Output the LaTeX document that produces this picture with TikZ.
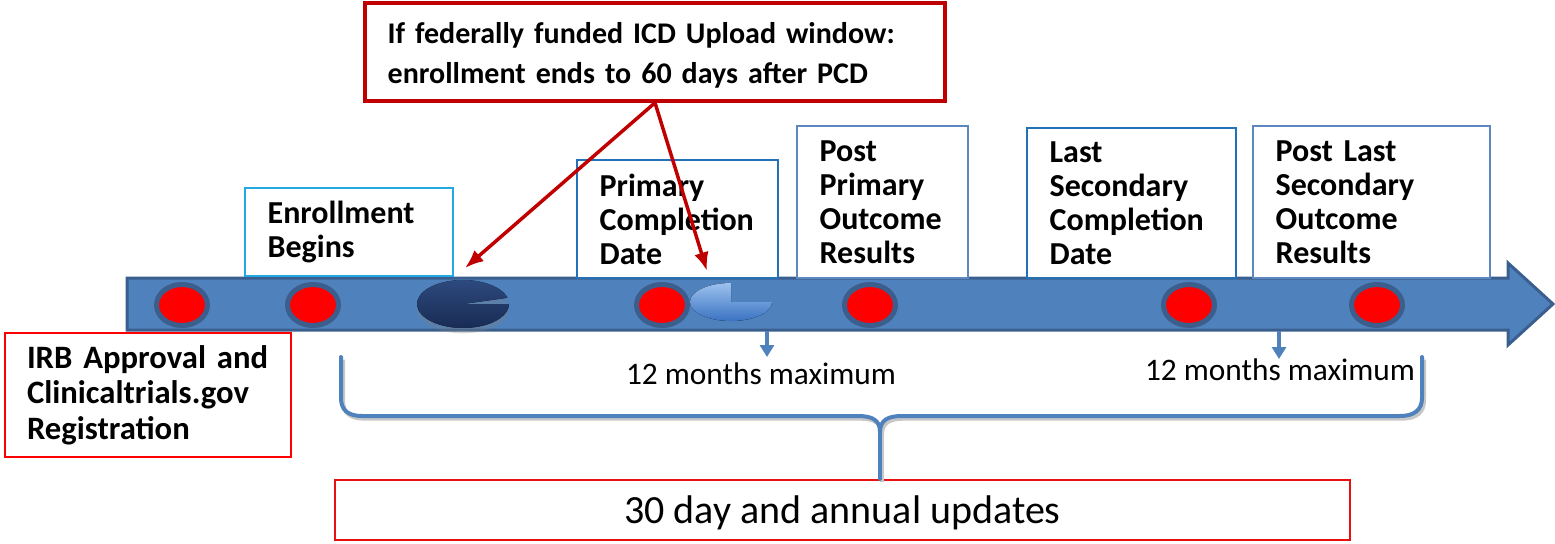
\documentclass[tikz,border=0pt]{standalone}
\usepackage{fontspec}
\setmainfont{Carlito}
\usetikzlibrary{shapes.geometric,arrows.meta,shadows}

\definecolor{barblue}{HTML}{4F81BD}
\definecolor{bardark}{HTML}{3A5F8E}
\definecolor{dotring}{HTML}{3C5E8C}
\definecolor{icdred}{HTML}{C00000}
\definecolor{irbred}{HTML}{FF0000}
\definecolor{updred}{HTML}{E81010}
\definecolor{enrollblue}{HTML}{22A9E1}
\definecolor{pcdblue}{HTML}{2372B8}
\definecolor{postblue}{HTML}{5D88BF}
\definecolor{navytop}{HTML}{2F4B80}
\definecolor{navybot}{HTML}{172A52}
\definecolor{pietop}{HTML}{9CC2EE}
\definecolor{piebot}{HTML}{3A72C2}

\tikzset{
	tbox/.style={draw, fill=white, line width=2pt, inner sep=0pt, align=left, font=\bfseries\fontsize{24}{25.5}\selectfont},
	reddot/.style={ellipse, draw=dotring, fill=red, line width=3.75pt, inner sep=0pt, minimum width=38.25pt, minimum height=30.75pt},
	callout/.style={draw=icdred, line width=2.6pt, -{Latex[length=14pt,width=11pt]}},
	dropline/.style={draw=barblue, line width=2.4pt, -{Triangle[length=9pt,width=10.5pt]}},
	monthtxt/.style={inner sep=0pt, font=\fontsize{23.5}{28}\selectfont},
	bracepath/.style={draw=barblue, line width=3pt, line cap=round, preaction={draw=black!22, line width=3pt, transform canvas={shift={(1.5pt,-2pt)}}}}
}

\begin{document}
\begin{tikzpicture}[x=0.75pt,y=0.75pt,yscale=-1,xscale=1]
	\useasboundingbox (0,0) rectangle (1555,543);
	\draw [draw=bardark, fill=barblue, line width=2.25pt] (127,278) -- (1508,278) -- (1508,263) -- (1553,304) -- (1508,345) -- (1508,330) -- (127,330) -- cycle ;
	\node [reddot] (dotA) at (182,305) {};
	\node [reddot] (dotB) at (313,305) {};
	\node [reddot] (dotC) at (662,305) {};
	\node [reddot] (dotD) at (870,305) {};
	\node [reddot] (dotE) at (1189,305) {};
	\node [reddot] (dotF) at (1377,305) {};
	\fill [top color=navytop, bottom color=navybot, drop shadow={opacity=0.3, shadow xshift=0pt, shadow yshift=-4pt}] (463,304) -- +(-15:46 and 24) arc [start angle=-15, end angle=-360, x radius=46, y radius=24] -- cycle ;
	\fill [top color=pietop, bottom color=piebot] (731,302) -- +(-90:41 and 19) arc [start angle=-90, end angle=-360, x radius=41, y radius=19] -- cycle ;
	\node [tbox, draw=enrollblue, minimum width=156pt, minimum height=66pt, text width=122pt] (enroll) at (349,232) {Enrollment\\Begins};
	\node [tbox, draw=pcdblue, minimum width=150.75pt, minimum height=88.5pt, text width=116.75pt] (pcd) at (677.5,219) {Primary\\Completion\\Date};
	\node [tbox, draw=postblue, minimum width=128.25pt, minimum height=114pt, text width=94.25pt] (ppor) at (882.5,202) {Post\\Primary\\Outcome\\Results};
	\node [tbox, draw=pcdblue, minimum width=156.75pt, minimum height=112.5pt, text width=122.75pt] (lscd) at (1131.5,203) {Last\\Secondary\\Completion\\Date};
	\node [tbox, draw=postblue, minimum width=177.75pt, minimum height=114pt, text width=143.75pt] (plsor) at (1371.5,202) {Post Last\\Secondary\\Outcome\\Results};
	\node [tbox, draw=irbred, line width=1.6pt, minimum width=214.5pt, minimum height=93pt, text width=181.5pt, font=\bfseries\fontsize{24.5}{26.6}\selectfont] (irb) at (148,395) {IRB Approval and\\Clinicaltrials.gov\\Registration};
	\node [tbox, draw=icdred, line width=2.6pt, minimum width=435pt, minimum height=73.5pt, text width=401pt, text depth=29pt, font=\bfseries\fontsize{22.5}{30}\selectfont] (icd) at (655,52) {If federally funded ICD Upload window:\\enrollment ends to 60 days after PCD};
	\node [draw=updred, line width=1.6pt, fill=white, inner sep=0pt, minimum width=761.25pt, minimum height=45pt, text depth=0pt, font=\fontsize{30}{36}\selectfont] (upd) at (842.5,510) {30 day and annual updates};
	\coordinate (tipA) at (465,268);
	\coordinate (tipB) at (707,271);
	\draw [callout] (icd.south) -- (tipA);
	\draw [callout] (icd.south) -- (tipB);
	\coordinate (dropA) at (767,331);
	\coordinate (dropAend) at (767,357);
	\coordinate (dropB) at (1279,331);
	\coordinate (dropBend) at (1279,359);
	\draw [dropline] (dropA) -- (dropAend);
	\draw [dropline] (dropB) -- (dropBend);
	\node [monthtxt] (monA) at (761,374) {12 months maximum};
	\node [monthtxt] (monB) at (1280,370) {12 months maximum};
	\coordinate (braceL) at (341,357);
	\coordinate (braceR) at (1422,357);
	\coordinate (braceMid) at (880,432);
	\draw [bracepath] (braceL) -- (341,398) .. controls (341,410) and (348,416) .. (362,416) -- (858,416) .. controls (872,416) and (880,420) .. (braceMid) .. controls (880,420) and (888,416) .. (902,416) -- (1400,416) .. controls (1414,416) and (1422,410) .. (1422,398) -- (braceR);
	\draw [bracepath] (braceMid) -- (upd.north -| braceMid);
\end{tikzpicture}
\end{document}
